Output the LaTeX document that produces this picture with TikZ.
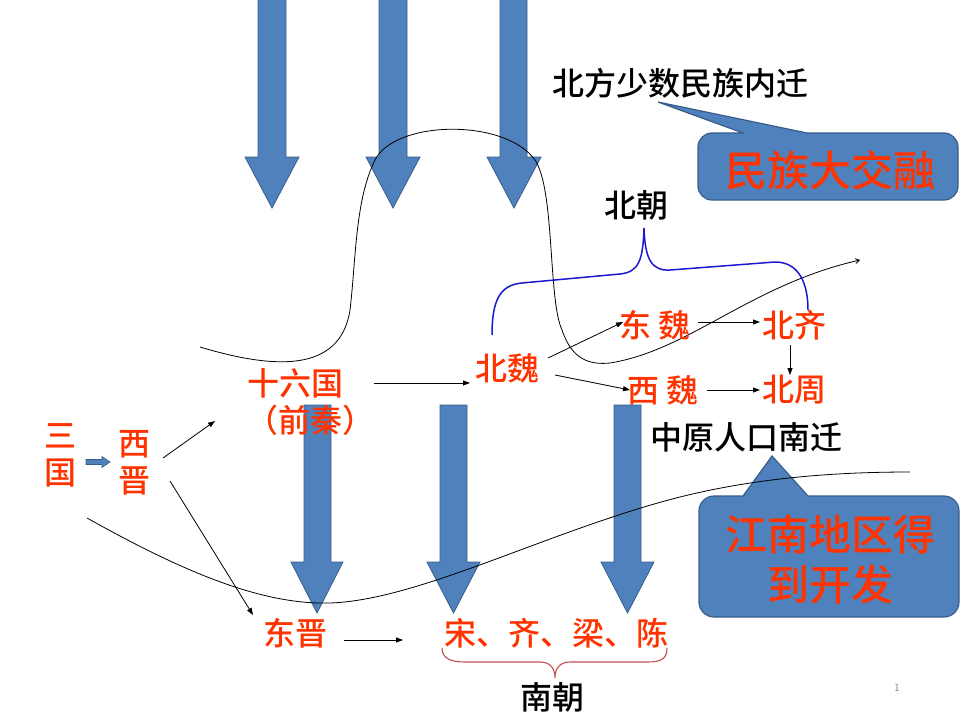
\documentclass[tikz,border=0pt]{standalone}
\usepackage{fontspec}
\newfontfamily\cjk{Noto Sans CJK SC Medium}
\usetikzlibrary{arrows.meta,calc}
\definecolor{rd}{RGB}{255,51,0}
\definecolor{bfill}{RGB}{79,129,189}
\definecolor{bline}{RGB}{56,93,138}
\definecolor{braceA}{RGB}{25,25,210}
\definecolor{braceB}{RGB}{192,80,77}
\begin{document}
\begin{tikzpicture}[x=1pt,y=-1pt,
  rt/.style={text=rd, font=\cjk\fontsize{32}{37}\selectfont, inner sep=0pt, outer sep=0pt, align=center},
  bt/.style={text=black, font=\cjk\fontsize{32}{37}\selectfont, inner sep=0pt, outer sep=0pt},
  ct/.style={text=rd, font=\cjk\fontsize{42}{50}\selectfont, inner sep=0pt, align=center},
  blk/.style={fill=bfill, draw=bline, line width=0.8pt},
  callout/.style={fill=bfill, draw=bline, line width=1.2pt},
  con/.style={-{Triangle[length=7pt,width=5pt]}, line width=0.8pt},
  crv/.style={line width=0.8pt}]
\useasboundingbox (0,0) rectangle (960,720);

% callouts
\draw[callout, rounded corners=14pt] (698,170) |- (730,133) [sharp corners] -- (743,133) -- (658,102) -- (807,133) -- (820,133) [rounded corners=14pt] -| (958,200) -| (698,166) -- cycle;
\draw[callout, rounded corners=15pt] (699,560) |- (730,496) [sharp corners] -- (743,496) -- (772,456) -- (808,496) -- (820,496) [rounded corners=15pt] -| (959,617) -| (699,555) -- cycle;

% top block arrows
\draw[blk] (258,-5) -- (286,-5) -- (286,157) -- (299,157) -- (272,208) -- (245,157) -- (258,157) -- cycle;
\draw[blk] (379,-5) -- (407,-5) -- (407,157) -- (420,157) -- (393,208) -- (366,157) -- (379,157) -- cycle;
\draw[blk] (500,-5) -- (527,-5) -- (527,157) -- (541,157) -- (514,208) -- (487,157) -- (500,157) -- cycle;
% lower block arrows
\draw[blk] (304,405) -- (331,405) -- (331,562) -- (343,562) -- (317,613) -- (291,562) -- (304,562) -- cycle;
\draw[blk] (440,405) -- (467,405) -- (467,562) -- (480,562) -- (453.5,613) -- (427,562) -- (440,562) -- cycle;
\draw[blk] (614,405) -- (641,405) -- (641,562) -- (654,562) -- (627.5,613) -- (601,562) -- (614,562) -- cycle;
% small arrow
\draw[blk, line width=0.6pt] (86,459.5) -- (102,459.5) -- (102,456.5) -- (110,462) -- (102,467.5) -- (102,464.5) -- (86,464.5) -- cycle;

% curves
\draw[crv, -{Straight Barb[length=4pt,width=5pt]}] (200,347) .. controls (270,368) and (340,375) .. (350,310) .. controls (356,260) and (355,200) .. (375,160) .. controls (395,120) and (505,118) .. (535,160) .. controls (555,190) and (548,300) .. (562,330) .. controls (572,360) and (590,365) .. (610,363) .. controls (690,350) and (750,285) .. (860,260);
\draw[crv] (87,518) .. controls (180,570) and (260,605) .. (330,603) .. controls (420,600) and (550,530) .. (680,497) .. controls (760,477) and (840,472) .. (910,472);

% braces
\draw[braceA, line width=1.5pt] (492,335) .. controls (492,300) and (500,285) .. (522,283) -- (620,274) .. controls (638,272) and (643,262) .. (644,228) .. controls (645,260) and (652,271) .. (670,270) -- (775,262) .. controls (800,262) and (808,285) .. (808,310);
\draw[braceB, line width=1.1pt] (442,648) .. controls (442,658) and (450,662) .. (465,662) -- (540,662) .. controls (550,662) and (555,668) .. (555,678) .. controls (555,668) and (560,662) .. (570,662) -- (648,662) .. controls (662,662) and (667,658) .. (667,648);

% text nodes
\node[rt] (sg) at (60,455.5) {三\\国};
\node[rt] (xj) at (134,462.5) {西\\晋};
\node[rt] (sl) at (295,383) {十六国};
\node[rt] (qq) at (310,420) {（前秦）};
\node[rt] (bw) at (507,368) {北魏};
\node[rt] (dw) at (655,325) {东 魏};
\node[rt] (bq) at (794,325) {北齐};
\node[rt] (xw) at (663,390) {西 魏};
\node[rt] (bz) at (794,390) {北周};
\node[rt] (dj) at (295,633) {东晋};
\node[rt] (sq) at (556,633) {宋、齐、梁、陈};
\node[bt] (nc) at (552,697) {南朝};
\node[bt] (bc) at (636,205) {北朝};
\node[bt] (zy) at (746,437) {中原人口南迁};
\node[bt] (bf) at (680,83) {北方少数民族内迁};
\node[ct] (mz) at (830,170) {民族大交融};
\node[ct] (jn) at (830,560) {江南地区得\\到开发};
\node[text=gray, font=\sffamily\fontsize{11}{11}\selectfont] (pg) at (897,688) {1};

% connectors
\draw[con] ($(xj)+(29,-4.5)$) -- ($(sl)+(-80,38)$);
\draw[con] ($(xj)+(36,18.5)$) -- ($(dj)+(-42,-18)$);
\draw[con] ($(sl)+(79,0)$) -- ($(bw)+(-37,15)$);
\draw[con] ($(bw)+(41,-10)$) -- ($(dw)+(-32,-3)$);
\draw[con] ($(bw)+(48,7)$) -- ($(xw)+(-33,0)$);
\draw[con] ($(dw)+(43,-3)$) -- ($(bq)+(-34,-3)$);
\draw[con] ($(xw)+(44,0)$) -- ($(bz)+(-34,0)$);
\draw[con] ($(bq)+(-4,20)$) -- ($(bz)+(-4,-15)$);
\draw[con] ($(dj)+(49,7)$) -- ($(sq)+(-153,7)$);
\end{tikzpicture}
\end{document}
